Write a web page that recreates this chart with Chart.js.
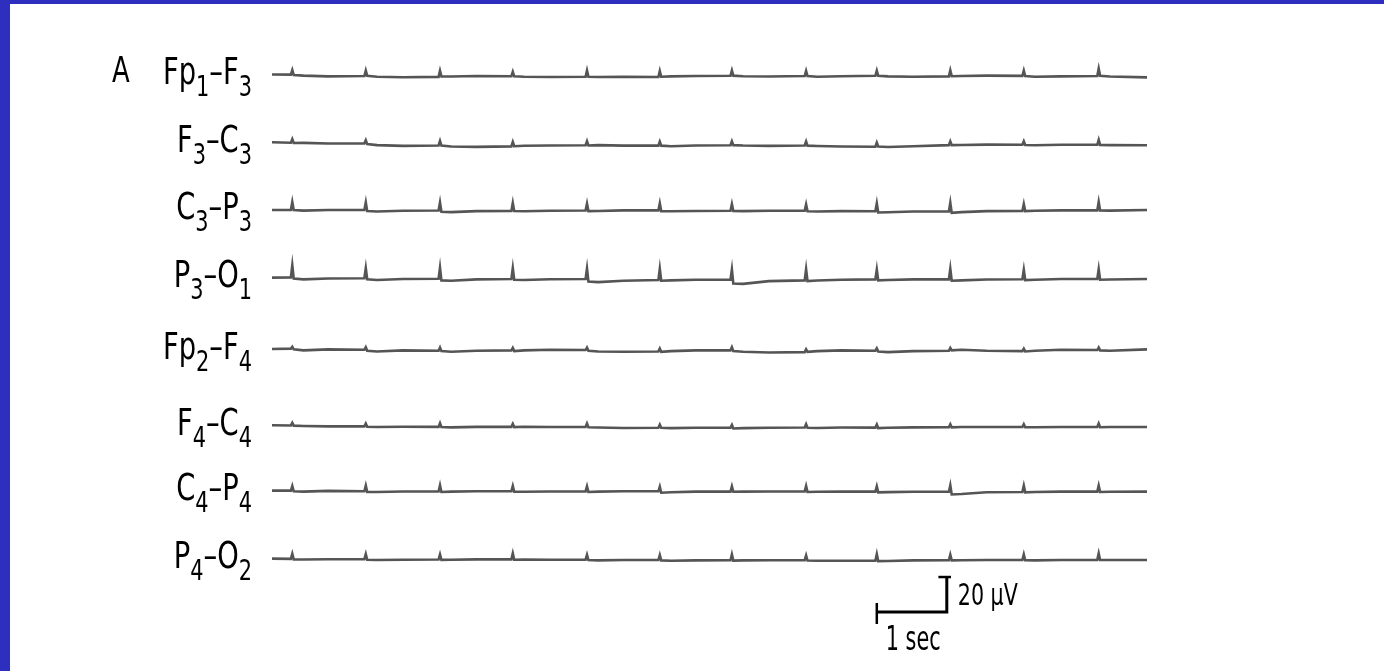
<!DOCTYPE html>
<html>
<head>
<meta charset="utf-8">
<script src="https://cdn.jsdelivr.net/npm/chart.js@4"></script>
<style>
  html,body{margin:0;padding:0;background:#2f2fbf;width:1384px;height:671px;overflow:hidden;}
  #box{position:absolute;left:10px;top:4px;width:1374px;height:667px;background:#fff;}
</style>
</head>
<body>
<div id="box"><canvas id="eeg"></canvas></div>
<script>
/* ================= DATA ================= */
const channelNames = ["Fp_1–F_3","F_3–C_3","C_3–P_3","P_3–O_1","Fp_2–F_4","F_4–C_4","C_4–P_4","P_4–O_2"];
// montage offset of each trace (µV above the bottom trace)
const channelOffsets = [276.6, 237.7, 199.4, 160.6, 119.4, 76.0, 38.9, 0];

// sample times (sec), grouped around each ECG spike: pre, peak, post, after, mid
const sampleTimes = [0.00,
  0.27,0.29,0.31,0.45,0.80,   1.32,1.34,1.36,1.50,1.87,   2.38,2.40,2.42,2.56,2.92,
  3.42,3.44,3.46,3.60,3.97,   4.48,4.50,4.52,4.66,5.02,   5.52,5.54,5.56,5.70,6.05,
  6.55,6.57,6.59,6.73,7.10,   7.61,7.63,7.65,7.79,8.13,   8.62,8.64,8.66,8.80,9.16,
  9.67,9.69,9.71,9.85,10.21,  10.72,10.74,10.76,10.90,11.27,  11.79,11.81,11.83,11.97,
  12.50];

// values in µV, relative to each trace's baseline
const fp1f3 = [0.3,
  0.2,2.8,0.0,-0.4,-0.8,   -0.6,2.5,-0.5,-1.0,-1.3,   -1.1,2.4,-0.8,-0.9,-0.6,
  -0.7,1.8,-0.8,-1.0,-1.2, -1.0,2.6,-1.0,-1.2,-1.1,   -1.2,2.2,-1.0,-0.8,-0.6,
  -0.5,2.5,-0.4,-0.7,-0.9, -0.6,2.3,-0.6,-1.0,-0.7,   -0.5,2.4,-0.5,-0.8,-1.0,
  -0.8,2.6,-0.7,-0.6,-0.4, -0.5,2.5,-0.6,-1.0,-0.8,   -0.6,3.6,-0.5,-0.9,
  -1.4];
const f3c3 = [0.4,
  0.2,2.2,0.0,0.1,-0.3,    -0.2,1.6,-0.6,-1.2,-1.6,   -1.4,1.2,-1.5,-2.0,-2.2,
  -1.9,0.6,-1.8,-1.6,-1.4, -1.3,1.0,-1.4,-1.2,-1.5,   -1.5,0.8,-1.5,-1.8,-1.4,
  -1.3,1.0,-1.2,-1.4,-1.6, -1.4,0.9,-1.5,-1.7,-2.0,   -2.1,0.2,-2.0,-2.3,-1.8,
  -1.2,0.9,-1.2,-1.1,-0.9, -1.0,1.0,-1.1,-1.3,-1.0,   -1.0,1.8,-1.1,-1.2,
  -1.3];
const c3p3 = [0.0,
  0.0,4.6,0.0,-0.3,0.0,    0.1,4.4,-0.6,-0.8,-0.4,    -0.3,4.3,-1.0,-1.2,-0.6,
  -0.5,4.0,-0.5,-0.7,-0.4, -0.3,3.6,-0.6,-0.5,-0.2,   -0.2,3.8,-0.6,-0.7,-0.5,
  -0.4,3.4,-0.5,-0.6,-0.4, -0.4,3.2,-0.7,-0.8,-0.6,   -0.7,3.8,-1.4,-1.3,-0.8,
  -0.8,4.2,-1.6,-1.2,-0.6, -0.5,3.4,-0.6,-0.4,-0.2,   -0.2,4.6,-0.2,-0.3,
  0.0];
const p3o1 = [0.2,
  0.3,7.2,-0.4,-0.8,-0.3,  -0.2,5.6,-0.8,-1.2,-0.6,   -0.5,5.8,-1.4,-1.6,-0.8,
  -0.6,5.6,-1.0,-1.2,-0.7, -0.6,5.4,-2.0,-2.4,-1.6,   -1.2,5.2,-1.6,-1.4,-1.0,
  -1.0,4.8,-3.2,-3.4,-1.8, -1.4,5.0,-1.8,-1.5,-1.0,   -0.8,4.8,-1.4,-1.2,-0.8,
  -0.8,5.2,-1.6,-1.4,-0.9, -0.7,4.6,-1.2,-1.0,-0.6,   -0.6,5.0,-1.0,-0.9,
  -0.6];
const fp2f4 = [0.6,
  0.8,1.8,0.4,-0.2,0.4,    0.2,1.6,-0.4,-0.8,-0.2,    -0.4,1.4,-0.6,-1.0,-0.4,
  -0.2,1.2,-0.6,-0.2,0.2,  0.0,1.4,-0.4,-0.8,-1.0,    -0.8,0.8,-1.0,-0.6,-0.2,
  -0.2,1.6,-0.6,-1.0,-1.4, -1.2,0.4,-1.0,-0.6,-0.2,   -0.4,1.0,-0.8,-1.2,-0.6,
  -0.4,1.2,-0.2,0.2,-0.4,  -0.6,0.8,-0.8,-0.4,0.2,    0.0,1.4,-0.2,-0.4,
  0.4];
const f4c4 = [0.4,
  0.3,1.8,0.2,0.0,-0.2,    -0.2,1.4,-0.4,-0.6,-0.4,   -0.5,1.6,-0.6,-0.8,-0.5,
  -0.5,1.2,-0.6,-0.4,-0.6, -0.6,1.4,-0.7,-0.9,-1.1,   -1.0,0.8,-1.0,-1.2,-1.0,
  -1.0,0.6,-1.4,-1.2,-1.0, -0.9,1.0,-1.0,-1.1,-0.9,   -0.9,0.8,-1.2,-1.0,-0.8,
  -0.7,1.0,-0.8,-0.6,-0.6, -0.6,1.0,-0.7,-0.7,-0.6,   -0.6,1.4,-0.7,-0.6,
  -0.6];
const c4p4 = [0.2,
  0.2,2.8,-0.2,-0.4,0.0,   -0.2,3.0,-0.6,-0.6,-0.3,   -0.3,3.2,-0.6,-0.4,-0.2,
  -0.2,2.8,-0.5,-0.5,-0.3, -0.3,2.6,-0.6,-0.4,-0.2,   -0.2,2.4,-1.0,-0.8,-0.4,
  -0.4,2.6,-0.5,-0.4,-0.3, -0.3,2.8,-0.6,-0.5,-0.4,   -0.4,2.6,-0.8,-0.7,-0.5,
  -0.5,3.2,-2.0,-1.8,-0.8, -0.6,3.0,-0.8,-0.6,-0.4,   -0.4,3.0,-0.6,-0.5,
  -0.4];
const p4o2 = [0.2,
  0.1,3.0,-0.2,-0.3,-0.1,  -0.1,2.8,-0.4,-0.6,-0.4,   -0.3,2.6,-0.5,-0.4,-0.2,
  -0.2,3.2,-0.4,-0.3,-0.4, -0.4,2.4,-0.6,-0.8,-0.6,   -0.6,2.2,-0.8,-1.0,-0.8,
  -0.7,2.6,-0.9,-0.8,-0.7, -0.7,2.0,-0.9,-1.0,-1.0,   -1.0,2.8,-1.2,-1.1,-0.8,
  -0.7,2.4,-0.8,-0.7,-0.6, -0.6,2.6,-0.7,-0.8,-0.6,   -0.5,3.2,-0.6,-0.6,
  -0.6];
const channelValues = [fp1f3, f3c3, c3p3, p3o1, fp2f4, f4c4, c4p4, p4o2];

// calibration bar
const barStartSec = 8.64, barSec = 1, barMicroV = 20, barLevel = -30.3;
const barSecLabel = "1 sec", barVoltLabel = "20 µV";
const panelLetter = "A";

/* ================= LAYOUT ================= */
const W = 1374, H = 667;
const PX_PER_SEC = 70, PX_PER_UV = 1.75;
const ORIGIN_X = 262, ORIGIN_Y = 555;
const LABEL_FONT = '"Liberation Sans Narrow","DejaVu Sans Condensed",sans-serif';

/* ================= DATASETS ================= */
const datasets = channelValues.map((vals,i)=>({
  data: sampleTimes.map((t,k)=>({x:t, y:channelOffsets[i]+vals[k]})),
  borderColor:"rgba(55,55,55,0.85)", borderWidth:2.6
}));
const barEnd = barStartSec + barSec;
datasets.push(
  {data:[{x:barStartSec,y:barLevel+5.2},{x:barStartSec,y:barLevel-6.8}], borderColor:"#000", borderWidth:2.5},
  {data:[{x:barStartSec,y:barLevel},{x:barEnd,y:barLevel},{x:barEnd,y:barLevel+barMicroV}], borderColor:"#000", borderWidth:3},
  {data:[{x:barEnd-0.12,y:barLevel+barMicroV},{x:barEnd+0.06,y:barLevel+barMicroV}], borderColor:"#000", borderWidth:2.5}
);

/* ================= TEXT ================= */
function drawRich(ctx, label, right, baseY){
  const parts = [];
  label.split(/(_\d)/).forEach(p=>{
    if(!p) return;
    if(p[0]==="_") parts.push({t:p.slice(1), sub:true}); else parts.push({t:p, sub:false});
  });
  const sx = 0.8;
  const mainF = "38px " + LABEL_FONT, subF = "29px " + LABEL_FONT;
  let total = 0;
  parts.forEach(p=>{ ctx.font = p.sub?subF:mainF; p.w = ctx.measureText(p.t).width*sx; total += p.w; });
  let x = right - total;
  parts.forEach(p=>{
    ctx.save();
    ctx.font = p.sub?subF:mainF;
    ctx.translate(x, baseY + (p.sub?12:0));
    ctx.scale(sx,1);
    ctx.fillText(p.t,0,0);
    ctx.restore();
    x += p.w;
  });
}

function drawPlain(ctx, text, left, baseY, size, sx){
  ctx.save();
  ctx.font = size + "px " + LABEL_FONT;
  ctx.translate(left, baseY);
  ctx.scale(sx,1);
  ctx.fillText(text,0,0);
  ctx.restore();
}

const labelPlugin = {
  id:"channelLabels",
  afterDraw(chart){
    const {ctx, scales:{x, y}} = chart;
    ctx.save();
    ctx.fillStyle = "#000";
    ctx.textBaseline = "alphabetic";
    ctx.textAlign = "left";
    channelNames.forEach((name,i)=>{
      drawRich(ctx, name, 242, y.getPixelForValue(channelOffsets[i]) + 9);
    });
    drawPlain(ctx, panelLetter, 102, y.getPixelForValue(channelOffsets[0]) + 7, 36, 0.8);
    drawPlain(ctx, barVoltLabel, x.getPixelForValue(barEnd) + 11, y.getPixelForValue(barLevel) - 7, 31, 0.74);
    drawPlain(ctx, barSecLabel, x.getPixelForValue(barStartSec) + 9, y.getPixelForValue(barLevel) + 38, 33, 0.7);
    ctx.restore();
  }
};

/* ================= CHART ================= */
new Chart(document.getElementById("eeg"), {
  type:"line",
  data:{datasets},
  plugins:[labelPlugin],
  options:{
    animation:false,
    responsive:true,
    maintainAspectRatio:false,
    layout:{padding:0},
    elements:{point:{radius:0}, line:{tension:0}},
    plugins:{legend:{display:false}, tooltip:{enabled:false}},
    scales:{
      x:{type:"linear", display:false, min:-ORIGIN_X/PX_PER_SEC, max:(W-ORIGIN_X)/PX_PER_SEC},
      y:{type:"linear", display:false, min:-(H-ORIGIN_Y)/PX_PER_UV, max:ORIGIN_Y/PX_PER_UV}
    }
  }
});
</script>
</body>
</html>
